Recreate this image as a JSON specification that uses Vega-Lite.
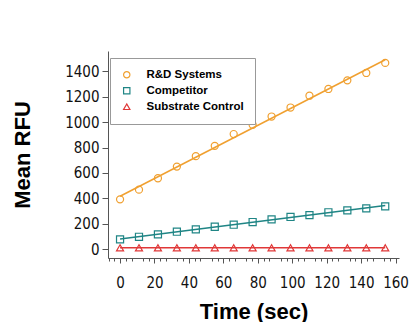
{
  "$schema": "https://vega.github.io/schema/vega-lite/v6.json",
  "autosize": {"type": "none"},
  "width": 291,
  "height": 207,
  "padding": {"left": 108, "top": 51, "right": 10, "bottom": 64},
  "background": "white",
  "config": {"view": {"stroke": null}, "axis": {"grid": false}},
  "data": {"values": [
    {"t": 0, "rfu": 392, "s": "R&D Systems"},
    {"t": 11, "rfu": 468, "s": "R&D Systems"},
    {"t": 22, "rfu": 558, "s": "R&D Systems"},
    {"t": 33, "rfu": 650, "s": "R&D Systems"},
    {"t": 44, "rfu": 732, "s": "R&D Systems"},
    {"t": 55, "rfu": 813, "s": "R&D Systems"},
    {"t": 66, "rfu": 906, "s": "R&D Systems"},
    {"t": 77, "rfu": 979, "s": "R&D Systems"},
    {"t": 88, "rfu": 1044, "s": "R&D Systems"},
    {"t": 99, "rfu": 1115, "s": "R&D Systems"},
    {"t": 110, "rfu": 1208, "s": "R&D Systems"},
    {"t": 121, "rfu": 1261, "s": "R&D Systems"},
    {"t": 132, "rfu": 1329, "s": "R&D Systems"},
    {"t": 143, "rfu": 1387, "s": "R&D Systems"},
    {"t": 154, "rfu": 1466, "s": "R&D Systems"},
    {"t": 0, "rfu": 77, "s": "Competitor"},
    {"t": 11, "rfu": 97, "s": "Competitor"},
    {"t": 22, "rfu": 116, "s": "Competitor"},
    {"t": 33, "rfu": 137, "s": "Competitor"},
    {"t": 44, "rfu": 155, "s": "Competitor"},
    {"t": 55, "rfu": 176, "s": "Competitor"},
    {"t": 66, "rfu": 192, "s": "Competitor"},
    {"t": 77, "rfu": 213, "s": "Competitor"},
    {"t": 88, "rfu": 234, "s": "Competitor"},
    {"t": 99, "rfu": 253, "s": "Competitor"},
    {"t": 110, "rfu": 268, "s": "Competitor"},
    {"t": 121, "rfu": 290, "s": "Competitor"},
    {"t": 132, "rfu": 305, "s": "Competitor"},
    {"t": 143, "rfu": 321, "s": "Competitor"},
    {"t": 154, "rfu": 337, "s": "Competitor"},
    {"t": 0, "rfu": 10, "s": "Substrate Control"},
    {"t": 11, "rfu": 10, "s": "Substrate Control"},
    {"t": 22, "rfu": 10, "s": "Substrate Control"},
    {"t": 33, "rfu": 10, "s": "Substrate Control"},
    {"t": 44, "rfu": 10, "s": "Substrate Control"},
    {"t": 55, "rfu": 10, "s": "Substrate Control"},
    {"t": 66, "rfu": 10, "s": "Substrate Control"},
    {"t": 77, "rfu": 10, "s": "Substrate Control"},
    {"t": 88, "rfu": 10, "s": "Substrate Control"},
    {"t": 99, "rfu": 10, "s": "Substrate Control"},
    {"t": 110, "rfu": 10, "s": "Substrate Control"},
    {"t": 121, "rfu": 10, "s": "Substrate Control"},
    {"t": 132, "rfu": 10, "s": "Substrate Control"},
    {"t": 143, "rfu": 10, "s": "Substrate Control"},
    {"t": 154, "rfu": 10, "s": "Substrate Control"}
  ]},
  "resolve": {"axis": {"x": "independent"}},
  "encoding": {
    "y": {"field": "rfu", "type": "quantitative",
      "scale": {"domain": [-70, 1560], "nice": false, "zero": false},
      "axis": {"title": "Mean RFU", "values": [0, 200, 400, 600, 800, 1000, 1200, 1400],
        "labelOverlap": false, "format": "d",
        "domainColor": "#555", "tickColor": "#555", "tickSize": 6, "labelPadding": 3,
        "labelFont": "DejaVu Sans Condensed", "labelFontSize": 15, "labelColor": "#111",
        "titleFont": "Liberation Sans", "titleFontSize": 22, "titleFontWeight": "bold", "titleColor": "#000",
        "titleX": -86, "titleY": 103.5, "titleBaseline": "middle", "titleAlign": "center", "grid": false}}
  },
  "layer": [
    {
      "mark": {"type": "point", "filled": false, "strokeWidth": 1.2, "opacity": 1},
      "encoding": {
        "x": {"field": "t", "type": "quantitative",
          "scale": {"domain": [-7, 162], "nice": false, "zero": false},
          "axis": {"orient": "bottom", "title": "Time (sec)", "values": [0, 20, 40, 60, 80, 100, 120, 140, 160], "grid": false,
            "labelOverlap": false, "format": "d",
            "domainColor": "#555", "tickColor": "#555", "tickSize": 5, "labelPadding": 12,
            "labelFont": "DejaVu Sans Condensed", "labelFontSize": 15, "labelColor": "#111",
            "titleFont": "Liberation Sans", "titleFontSize": 22, "titleFontWeight": "bold", "titleColor": "#000",
            "titleX": 145.5, "titleY": 60, "titleBaseline": "alphabetic"}},
        "color": {"field": "s", "type": "nominal",
          "scale": {"domain": ["R&D Systems", "Competitor", "Substrate Control"], "range": ["#F0A030", "#1F8585", "#E03838"]},
          "legend": {"title": null, "orient": "none", "legendX": 2, "legendY": 7,
            "strokeColor": "#999", "fillColor": "white", "padding": 11,
            "labelFont": "Liberation Sans", "labelFontSize": 11.5, "labelFontWeight": "bold", "labelColor": "#000",
            "labelOffset": 14, "rowPadding": 3, "symbolSize": 40, "symbolStrokeWidth": 1.2}},
        "shape": {"field": "s", "type": "nominal",
          "scale": {"domain": ["R&D Systems", "Competitor", "Substrate Control"], "range": ["circle", "square", "triangle-up"]},
          "legend": {"title": null}},
        "size": {"value": 50}
      }
    },
    {
      "transform": [{"filter": "datum.s === 'R&D Systems'"}, {"regression": "rfu", "on": "t"}],
      "mark": {"type": "line", "strokeWidth": 1.5, "color": "#F0A030"},
      "encoding": {
        "x": {"field": "t", "type": "quantitative",
          "axis": {"orient": "bottom", "labels": false, "domain": false, "grid": false, "title": null, "tickSize": 3, "tickColor": "#555",
            "values": [-6.667, -3.333, 3.333, 6.667, 13.333, 16.667, 23.333, 26.667, 33.333, 36.667, 43.333, 46.667, 53.333, 56.667, 63.333, 66.667, 73.333, 76.667, 83.333, 86.667, 93.333, 96.667, 103.333, 106.667, 113.333, 116.667, 123.333, 126.667, 133.333, 136.667, 143.333, 146.667, 153.333, 156.667]}}
      }
    },
    {
      "transform": [{"filter": "datum.s === 'Competitor'"}, {"regression": "rfu", "on": "t"}],
      "mark": {"type": "line", "strokeWidth": 1.5, "color": "#1F8585"},
      "encoding": {
        "x": {"field": "t", "type": "quantitative", "axis": null}
      }
    },
    {
      "transform": [{"filter": "datum.s === 'Substrate Control'"}, {"regression": "rfu", "on": "t"}],
      "mark": {"type": "line", "strokeWidth": 1.5, "color": "#E03838"},
      "encoding": {
        "x": {"field": "t", "type": "quantitative", "axis": null}
      }
    }
  ]
}
